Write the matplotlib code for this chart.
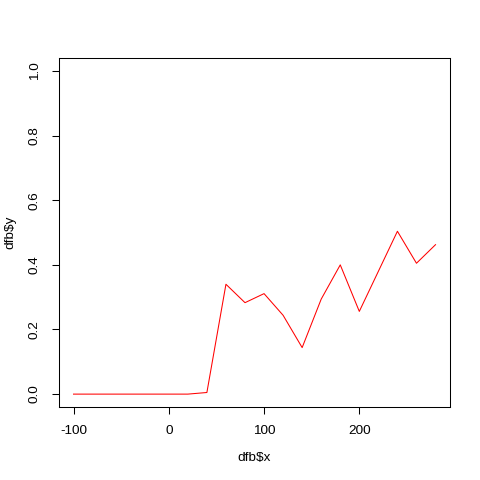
import matplotlib
matplotlib.use("Agg")
import matplotlib.pyplot as plt

x = [-100, -80, -60, -40, -20, 0, 20, 40, 60, 80, 100, 120, 140, 160, 180, 200, 220, 240, 260, 280]
y = [0.0, 0.0, 0.0, 0.0, 0.0, 0.0, 0.0, 0.005, 0.34, 0.283, 0.311, 0.244, 0.144, 0.294, 0.40,
     0.256, 0.38, 0.504, 0.405, 0.4625]

xticks = [-100, 0, 100, 200]
yticks = [0.0, 0.2, 0.4, 0.6, 0.8, 1.0]

plt.rcParams.update({"font.family": ["Liberation Sans", "DejaVu Sans"], "font.size": 9.7})

fig = plt.figure(figsize=(4.8, 4.8), dpi=100)
ax = fig.add_axes([0.123, 0.152, 0.8145, 0.727])
ax.plot(x, y, color="red", lw=0.75)

pad = 0.04 * (max(x) - min(x))
ax.set_xlim(min(x) - pad, max(x) + pad)
ax.set_ylim(-0.04, 1.04)
ax.set_xticks(xticks)
ax.set_xticklabels([str(t) for t in xticks])
ax.set_yticks(yticks)
ax.set_yticklabels([f"{t:.1f}" for t in yticks], rotation=90, va="center")
ax.tick_params(length=5, width=0.75, pad=8, labelsize=9.7)
for s in ax.spines.values():
    s.set_linewidth(0.75)
ax.set_xlabel(r"dfb\$x", va="center")
ax.set_ylabel(r"dfb\$y", va="center")
ax.xaxis.set_label_coords(0.5, -0.146)
ax.yaxis.set_label_coords(-0.125, 0.5)

fig.savefig("out.png", dpi=100)
